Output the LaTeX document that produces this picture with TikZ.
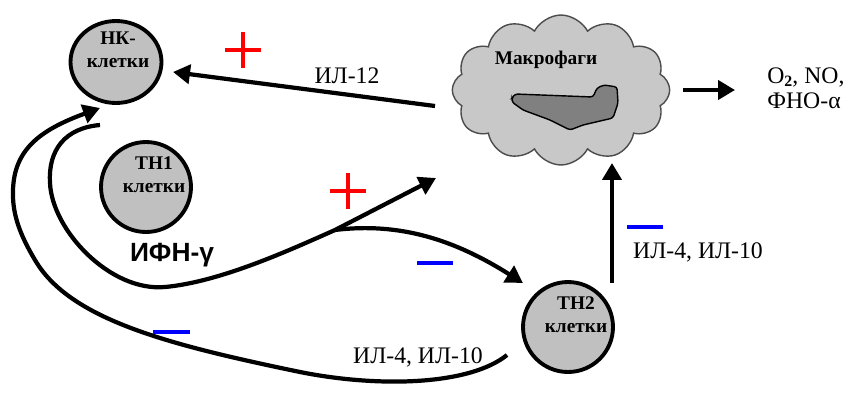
\documentclass[tikz,border=0pt]{standalone}
\usepackage{fontspec}
\setmainfont{Liberation Serif}
\newfontfamily\ifnfont{Liberation Sans}
\usetikzlibrary{positioning,arrows.meta,calc,shapes.geometric,shapes.symbols}
\definecolor{cellgray}{RGB}{192,192,192}
\definecolor{cloudgray}{RGB}{200,200,200}
\definecolor{coregray}{RGB}{128,128,128}
\tikzset{
  flowarrow/.style={-{Triangle[length=3.4mm,width=3.8mm]}, line width=2.4pt},
  cellnode/.style={circle, draw, line width=2.2pt, fill=cellgray, minimum size=1.8cm, inner sep=0pt},
  nknode/.style={ellipse, draw, line width=2.2pt, fill=cellgray, minimum width=1.82cm, minimum height=1.64cm, inner sep=0pt},
  celltext/.style={font=\fontsize{11}{13}\selectfont\bfseries, align=center, inner sep=0pt},
  reltext/.style={font=\fontsize{13.5}{14}\selectfont, inner sep=0pt},
  plussign/.style={draw=red, line width=2.2pt},
  minussign/.style={draw=blue, line width=2.6pt}
}

\begin{document}
\begin{tikzpicture}[x=0.02cm, y=-0.02cm]
  \useasboundingbox (0,0) rectangle (848,392);

  % cells
  \node[nknode] (nk) at (116,62) {};
  \node[cellnode] (th1) at (146,187) {};
  \node[cellnode] (th2) at (568,327) {};
  \node[celltext] (nklab) at ($(nk)+(2,-12)$) {НК-\\клетки};
  \node[celltext] (th1lab) at ($(th1)+(8,-12)$) {TH1\\клетки};
  \node[celltext] (th2lab) at ($(th2)+(8,-12)$) {TH2\\клетки};

  % macrophage
  \node[cloud, cloud puffs=12, cloud puff arc=125, aspect=1.5, draw=black!70, line width=0.8pt,
        fill=cloudgray, minimum width=4.35cm, minimum height=3.0cm] (mac) at (561,90) {};
  \draw[fill=coregray, line width=0.8pt, rounded corners=1.5pt]
    (512,98) -- (515,94) -- (593,97) -- (597,88) -- (604,85) -- (617,87) -- (618,103)
    -- (613,118) -- (583,125) -- (570,130) -- (550,120) -- (523,110) -- (512,102) -- cycle;
  \node[celltext] (maclab) at (546,60) {Макрофаги};

  % macrophage -> NK
  \draw[flowarrow] ($(mac)+(-126,16)$) -- ($(nk)+(57,10)$);
  \node[reltext] (il12) at (347,76) {ИЛ-12};
  \draw[plussign] (225,50) -- (261,50) (243,32) -- (243,68);

  % products
  \node[reltext, align=left, anchor=west] (prod) at (767,88)
    {O\raisebox{-0.3ex}[0pt][0pt]{\small\bfseries 2}, NO,\\ФНО-α};
  \draw[flowarrow] ($(mac)+(122,0)$) -- ($(prod.west)+(-32,2)$);

  % TH2 -> macrophage
  \draw[flowarrow] ($(th2)+(44,-44)$) -- ($(th2)+(44,-164)$);
  \node[reltext] (il410a) at (698,252) {ИЛ-4, ИЛ-10};
  \draw[minussign] (627,227) -- (663,227);

  % IFN-gamma from TH1
  \coordinate (split) at (335,230);
  \coordinate (macin) at ($(mac)+(-125,88)$);
  \draw[flowarrow] ($(nk)+(-16,63)$) .. controls (65,128) and (48,150) .. (50,183)
    .. controls (52,230) and (110,292) .. (165,287)
    .. controls (220,282) and (290,250) .. (split) -- (macin);
  \draw[flowarrow] (split) .. controls (400,222) and (455,240) .. ($(th2)+(-45,-44)$);
  \node[font=\ifnfont\fontsize{15}{18}\selectfont\bfseries, inner sep=0pt] (ifn) at (172,255) {ИФН-γ};
  \draw[plussign] (330,191) -- (366,191) (348,173) -- (348,209);
  \draw[minussign] (417,263) -- (453,263);

  % TH2 -> NK
  \draw[flowarrow] ($(th2)+(-61,28)$) .. controls (470,385) and (380,388) .. (300,372)
    .. controls (170,345) and (70,320) .. (35,260)
    .. controls (20,235) and (13,215) .. (13,195)
    .. controls (12,150) and (40,130) .. ($(nk)+(-16,46)$);
  \node[reltext] (il410b) at (418,357) {ИЛ-4, ИЛ-10};
  \draw[minussign] (153,332) -- (190,332);
\end{tikzpicture}
\end{document}
